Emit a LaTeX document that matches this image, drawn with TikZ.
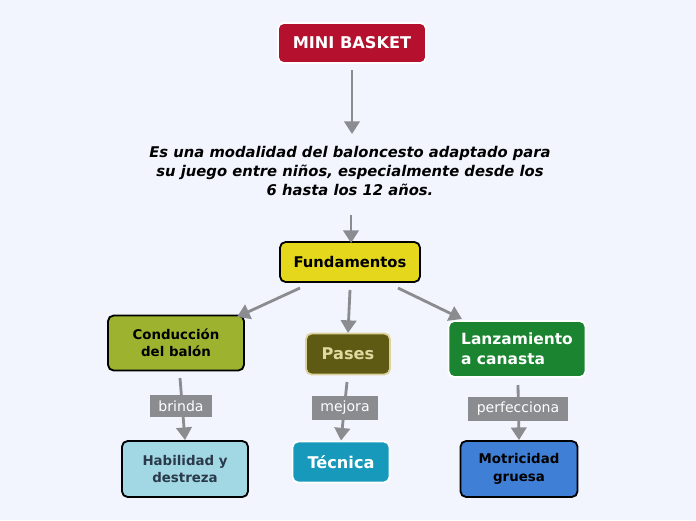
\documentclass[tikz,border=0pt]{standalone}
\usepackage{fontspec}
\setmainfont{DejaVu Sans}
\usetikzlibrary{arrows.meta}
\definecolor{bgc}{HTML}{F2F5FE}
\definecolor{linec}{HTML}{8A8C90}
\tikzset{
  box/.style={rounded corners=4pt,draw,line width=1.3pt,align=center,font=\bfseries\fontsize{10.5}{13}\selectfont},
  conn/.style={draw=linec,line width=2pt,-{Triangle[length=9pt,width=11pt]}},
  tag/.style={fill=linec,text=white,font=\fontsize{10}{12}\selectfont,inner xsep=6pt,inner ysep=4pt}
}
\begin{document}
\begin{tikzpicture}[x=0.025cm,y=-0.025cm]
\fill[bgc] (0,0) rectangle (696,520);
\useasboundingbox (0,0) rectangle (696,520);
\node[box,draw=white,fill={rgb,255:red,181;green,16;blue,46},text=white,minimum width=148*0.025cm,minimum height=40*0.025cm,font=\bfseries\fontsize{11.5}{14}\selectfont] (mb) at (352,43) {MINI BASKET};
\node[font=\bfseries\itshape\fontsize{10.5}{13.5}\selectfont,align=center] (def) at (350,171) {Es una modalidad del baloncesto adaptado para\\su juego entre niños, especialmente desde los\\6 hasta los 12 años.};
\node[box,fill={rgb,255:red,229;green,216;blue,28},minimum width=140*0.025cm,minimum height=40*0.025cm] (fu) at (350,262) {Fundamentos};
\node[box,fill={rgb,255:red,157;green,179;blue,48},minimum width=136*0.025cm,minimum height=55*0.025cm,font=\bfseries\fontsize{9.5}{12}\selectfont] (co) at (176,343) {Conducción\\del balón};
\node[box,draw={rgb,255:red,220;green,210;blue,160},fill={rgb,255:red,94;green,90;blue,20},text={rgb,255:red,224;green,217;blue,160},minimum width=84*0.025cm,minimum height=41*0.025cm,font=\bfseries\fontsize{11.5}{14}\selectfont] (pa) at (348,354) {Pases};
\node[box,draw=white,fill={rgb,255:red,27;green,132;blue,49},text=white,minimum width=137*0.025cm,minimum height=56*0.025cm,align=left,font=\bfseries\fontsize{11}{14}\selectfont] (la) at (517,349) {Lanzamiento\\a canasta};
\node[box,fill={rgb,255:red,162;green,216;blue,228},text={rgb,255:red,42;green,58;blue,74},minimum width=126*0.025cm,minimum height=56*0.025cm,font=\bfseries\fontsize{9.5}{12.5}\selectfont] (ha) at (185,469) {Habilidad y\\destreza};
\node[box,draw=white,fill={rgb,255:red,22;green,153;blue,186},text=white,minimum width=97*0.025cm,minimum height=41*0.025cm,font=\bfseries\fontsize{11.5}{14}\selectfont] (te) at (341,462) {Técnica};
\node[box,fill={rgb,255:red,63;green,127;blue,214},minimum width=117*0.025cm,minimum height=56*0.025cm,font=\bfseries\fontsize{9.5}{12.5}\selectfont] (mo) at (519,469) {Motricidad\\gruesa};
\coordinate (a1) at (352,70); \coordinate (a2) at (352,134);
\coordinate (b1) at (351,215); \coordinate (b2) at (351,243);
\coordinate (c1) at (300,288); \coordinate (c2) at (237,317);
\coordinate (d1) at (350,290); \coordinate (d2) at (348,333);
\coordinate (e1) at (398,288); \coordinate (e2) at (462,319);
\coordinate (f1) at (180,378); \coordinate (g1) at (347,382); \coordinate (h1) at (518,385);
\draw[conn] (a1) -- (a2);
\draw[conn] (b1) -- (b2);
\draw[conn] (c1) -- (c2);
\draw[conn] (d1) -- (d2);
\draw[conn] (e1) -- (e2);
\draw[conn] (f1) -- (ha.north);
\draw[conn] (g1) -- (te.north);
\draw[conn] (h1) -- (mo.north);
\node[tag] (l1) at (181,406) {brinda};
\node[tag] (l2) at (345,408) {mejora};
\node[tag] (l3) at (518,409) {perfecciona};
\end{tikzpicture}
\end{document}
